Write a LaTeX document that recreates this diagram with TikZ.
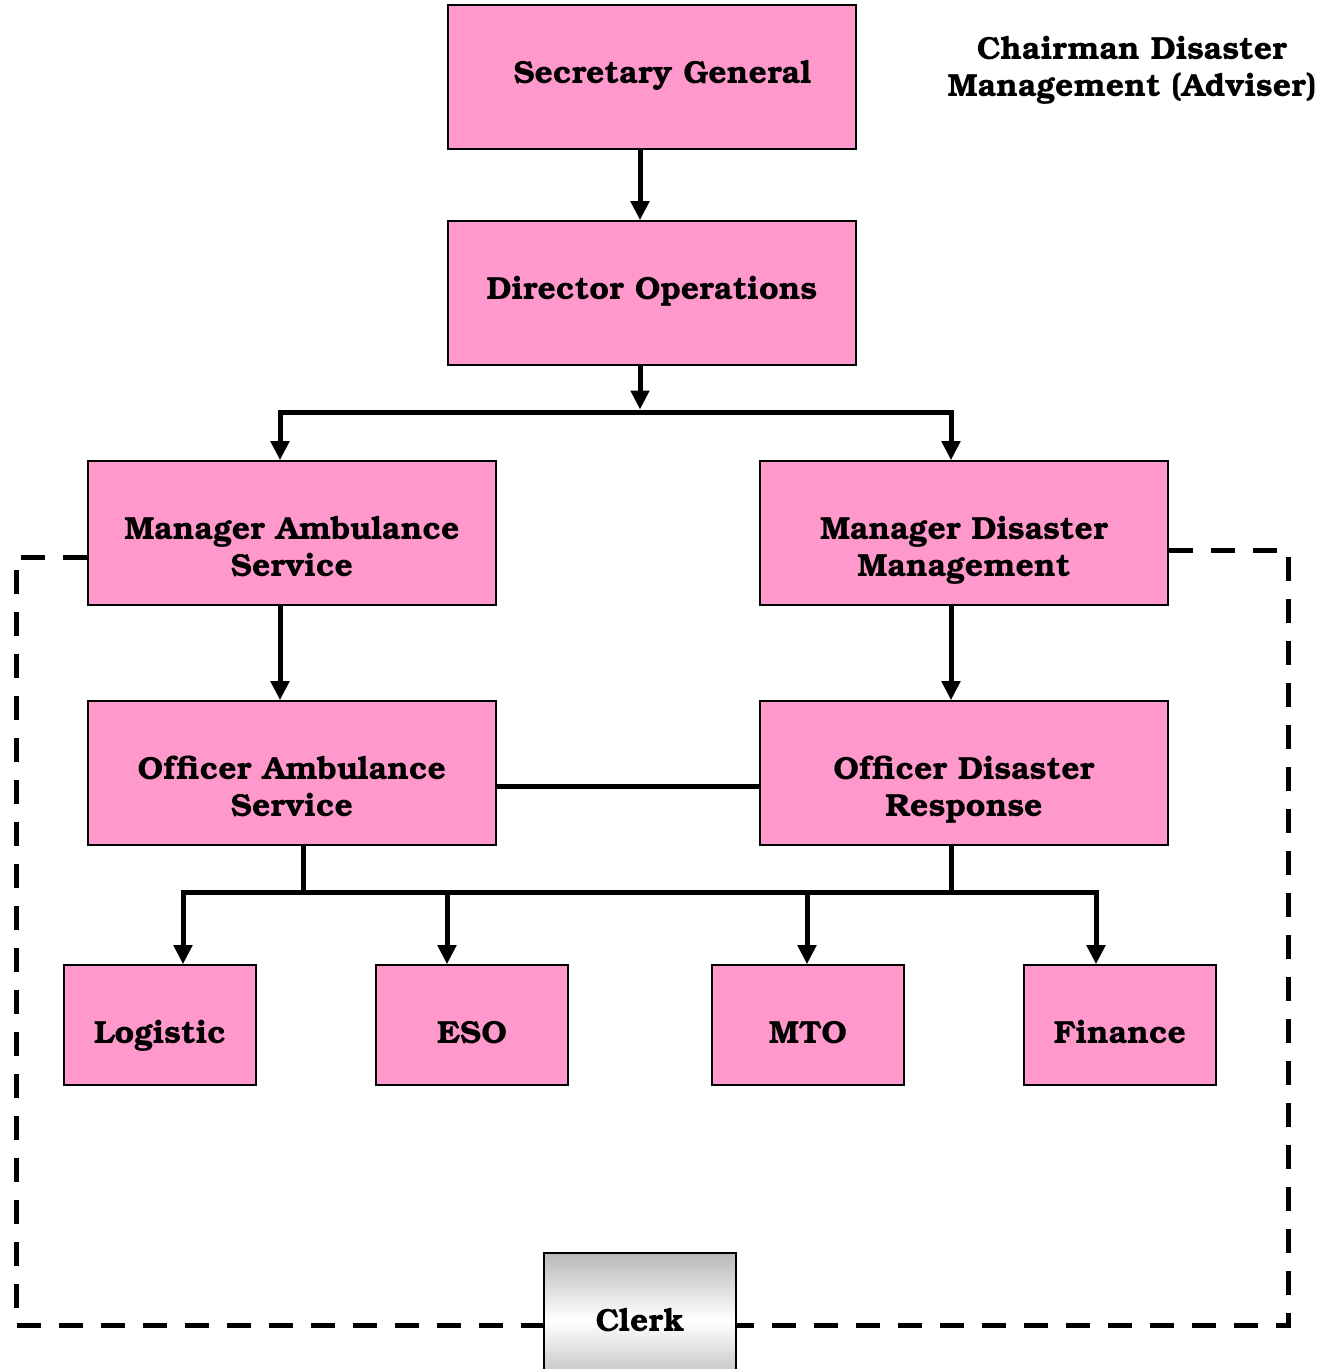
\documentclass[tikz,border=0pt]{standalone}
\usepackage[T1]{fontenc}
\usepackage{bookman}
\usetikzlibrary{arrows.meta}
\definecolor{boxpink}{HTML}{FF99CC}
% label text: a centred stack of lines, sized as nothing and moved by #1
\newcommand\boxtext[2]{\raisebox{#1}[0pt][0pt]{\begin{tabular}{@{}c@{}}#2\end{tabular}}}
\tikzset{
  box/.style={draw=black, line width=1.6pt, fill=boxpink, rectangle,
    inner sep=0pt, font=\fontsize{32}{37}\selectfont\bfseries},
  bigbox/.style={box, minimum width=408pt, minimum height=144pt},
  smallbox/.style={box, minimum width=192pt, minimum height=120pt},
  wire/.style={line width=5pt, draw=black},
  arr/.style={wire, -{Triangle[width=18pt,length=19pt]}},
  border/.style={line width=5pt, dash pattern=on 24pt off 18pt},
}
\begin{document}
\begin{tikzpicture}[x=1pt, y=-1pt]
\useasboundingbox (0,0) rectangle (1334,1369);
\clip (0,0) rectangle (1334,1369);

% boxes
\node[bigbox] (sg) at (652,77) {\hspace*{21pt}\boxtext{-5pt}{Secretary General}};
\node[bigbox] (do) at (652,293) {\boxtext{-5pt}{Director Operations}};
\node[bigbox] (mas) at (292,533) {\boxtext{-24pt}{Manager Ambulance\\Service}};
\node[bigbox] (mdm) at (964,533) {\boxtext{-24pt}{Manager Disaster\\Management}};
\node[bigbox] (oas) at (292,773) {\boxtext{-24pt}{Officer Ambulance\\Service}};
\node[bigbox] (odr) at (964,773) {\boxtext{-24pt}{Officer Disaster\\Response}};
\node[smallbox] (log) at (160,1025) {\boxtext{-17pt}{Logistic}};
\node[smallbox] (eso) at (472,1025) {\boxtext{-17pt}{ESO}};
\node[smallbox] (mto) at (808,1025) {\boxtext{-17pt}{MTO}};
\node[smallbox] (fin) at (1120,1025) {\boxtext{-17pt}{Finance}};
\node[box, minimum width=192pt, minimum height=134pt,
      top color=gray!55, bottom color=gray!55, middle color=white]
      (clerk) at (640,1320) {\boxtext{-10pt}{Clerk}};

\node[inner sep=0pt, font=\fontsize{32}{37}\selectfont\bfseries]
      (chair) at (1132,70) {\boxtext{-7pt}{Chairman Disaster\\Management (Adviser)}};

% top chain
\coordinate (split) at (640,412);
\coordinate (bl) at (280,412);
\coordinate (br) at (951,412);
\draw[arr] ([xshift=-12pt]sg.south) -- ([xshift=-12pt]do.north);
\draw[wire] (bl) -- (br);
\draw[arr] ([xshift=-12pt]do.south) -- ([yshift=2.5pt]split);
\draw[arr] ([yshift=2.5pt]bl) -- (bl |- mas.north);
\draw[arr] ([yshift=2.5pt]br) -- (br |- mdm.north);
\draw[arr] (mas.south -| bl) -- (bl |- oas.north);
\draw[arr] (mdm.south -| br) -- (br |- odr.north);

% link between officers
\draw[wire] ([yshift=-13pt]oas.east) -- ([yshift=-13pt]odr.west);

% bottom distribution bar
\coordinate (b1) at (183,892);
\coordinate (b2) at (447,892);
\coordinate (b3) at (807,892);
\coordinate (b4) at (1096,892);
\coordinate (ja) at (303,892);
\coordinate (jb) at (951,892);
\draw[wire] ([xshift=11pt]oas.south) -- (ja);
\draw[wire] (odr.south -| jb) -- (jb);
\draw[wire] ([xshift=-2.5pt]b1) -- ([xshift=2.5pt]b4);
\draw[arr] ([yshift=2.5pt]b1) -- (b1 |- log.north);
\draw[arr] ([yshift=2.5pt]b2) -- (b2 |- eso.north);
\draw[arr] ([yshift=2.5pt]b3) -- (b3 |- mto.north);
\draw[arr] ([yshift=2.5pt]b4) -- (b4 |- fin.north);

% dashed boundary
\coordinate (dl1) at (16,557);
\coordinate (dl2) at (16,1325);
\coordinate (dr1) at (1288,550);
\coordinate (dr2) at (1288,1325);
\draw[border] (mas.west |- dl1) -- (dl1) -- (dl2) -- (clerk.west |- dl2);
\draw[border] (mdm.east |- dr1) -- (dr1) -- (dr2) -- (clerk.east |- dr2);
\end{tikzpicture}
\end{document}
